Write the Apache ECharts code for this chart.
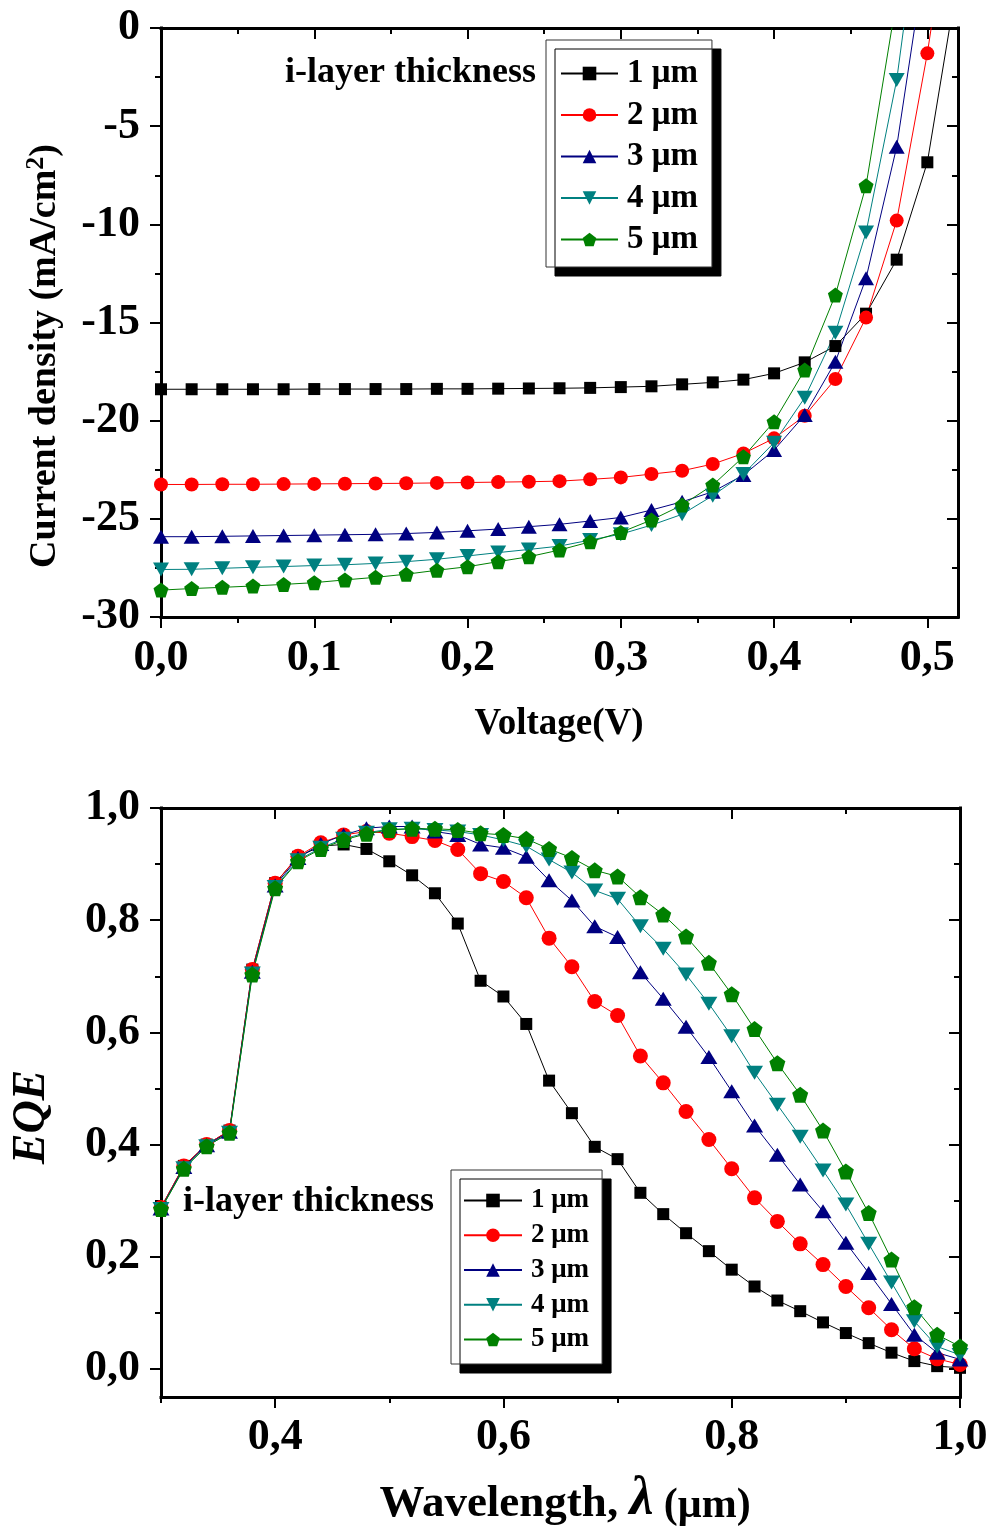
<!DOCTYPE html>
<html>
<head>
<meta charset="utf-8">
<script src="https://cdn.jsdelivr.net/npm/echarts@6/dist/echarts.min.js"></script>
<style>
  html, body { margin: 0; padding: 0; background: #ffffff; }
  #chart { width: 994px; height: 1528px; }
</style>
</head>
<body>
<div id="chart"></div>
<script>
// ---- J–V characteristics (current density vs. voltage) ----
const voltage = [0, 0.02, 0.04, 0.06, 0.08, 0.10, 0.12, 0.14, 0.16, 0.18, 0.20, 0.22, 0.24,
  0.26, 0.28, 0.30, 0.32, 0.34, 0.36, 0.38, 0.40, 0.42, 0.44, 0.46, 0.48, 0.50, 0.52];
const jv1um = [-18.40, -18.40, -18.40, -18.40, -18.40, -18.39, -18.39, -18.39, -18.39, -18.38, -18.38, -18.37, -18.36,
  -18.35, -18.33, -18.29, -18.25, -18.15, -18.05, -17.91, -17.59, -17.03, -16.20, -14.55, -11.80, -6.84, 2.6];
const jv2um = [-23.25, -23.25, -23.24, -23.24, -23.23, -23.22, -23.21, -23.20, -23.19, -23.17, -23.15, -23.13, -23.11,
  -23.08, -22.99, -22.89, -22.72, -22.55, -22.21, -21.67, -20.90, -19.75, -17.88, -14.75, -9.81, -1.29, 9.0];
const jv3um = [-25.91, -25.91, -25.89, -25.87, -25.85, -25.83, -25.81, -25.79, -25.75, -25.69, -25.61, -25.52, -25.40,
  -25.28, -25.11, -24.93, -24.55, -24.13, -23.62, -22.77, -21.50, -19.71, -17.00, -12.75, -6.05, 4.3, null];
const jv4um = [-27.58, -27.57, -27.52, -27.47, -27.43, -27.38, -27.34, -27.27, -27.18, -27.06, -26.89, -26.72, -26.56,
  -26.39, -26.08, -25.78, -25.32, -24.77, -23.82, -22.72, -21.12, -18.83, -15.52, -10.41, -2.65, 9.0, null];
const jv5um = [-28.63, -28.55, -28.49, -28.42, -28.34, -28.25, -28.11, -27.98, -27.82, -27.62, -27.44, -27.18, -26.93,
  -26.59, -26.17, -25.69, -25.06, -24.30, -23.28, -21.84, -20.05, -17.42, -13.60, -8.03, 1.5, null, null];

// ---- External quantum efficiency vs. wavelength ----
const wavelength = [0.30, 0.32, 0.34, 0.36, 0.38, 0.40, 0.42, 0.44, 0.46, 0.48, 0.50, 0.52, 0.54, 0.56, 0.58, 0.60,
  0.62, 0.64, 0.66, 0.68, 0.70, 0.72, 0.74, 0.76, 0.78, 0.80, 0.82, 0.84, 0.86, 0.88, 0.90, 0.92, 0.94, 0.96, 0.98, 1.00];
const eqe1um = [0.288, 0.362, 0.400, 0.425, 0.712, 0.866, 0.913, 0.932, 0.935, 0.927, 0.905, 0.880, 0.848, 0.794, 0.692, 0.664,
  0.615, 0.514, 0.456, 0.396, 0.374, 0.314, 0.276, 0.242, 0.210, 0.177, 0.147, 0.122, 0.103, 0.083, 0.064, 0.046, 0.029, 0.014, 0.005, 0.002];
const eqe2um = [0.288, 0.362, 0.400, 0.425, 0.712, 0.866, 0.914, 0.938, 0.952, 0.958, 0.955, 0.949, 0.942, 0.926, 0.883, 0.869,
  0.840, 0.768, 0.717, 0.655, 0.630, 0.558, 0.510, 0.459, 0.409, 0.357, 0.305, 0.263, 0.223, 0.186, 0.147, 0.109, 0.070, 0.036, 0.018, 0.008];
const eqe3um = [0.286, 0.360, 0.399, 0.423, 0.708, 0.862, 0.911, 0.936, 0.952, 0.964, 0.967, 0.967, 0.958, 0.952, 0.935, 0.929,
  0.913, 0.871, 0.835, 0.789, 0.770, 0.707, 0.660, 0.610, 0.556, 0.495, 0.434, 0.382, 0.329, 0.281, 0.225, 0.171, 0.116, 0.061, 0.029, 0.017];
const eqe4um = [0.285, 0.358, 0.397, 0.421, 0.705, 0.859, 0.907, 0.929, 0.945, 0.956, 0.962, 0.963, 0.961, 0.958, 0.952, 0.943,
  0.932, 0.908, 0.885, 0.853, 0.838, 0.789, 0.749, 0.703, 0.651, 0.593, 0.528, 0.471, 0.414, 0.354, 0.293, 0.223, 0.154, 0.085, 0.040, 0.025];
const eqe5um = [0.285, 0.357, 0.397, 0.421, 0.703, 0.857, 0.905, 0.927, 0.943, 0.954, 0.961, 0.963, 0.963, 0.961, 0.955, 0.952,
  0.945, 0.927, 0.911, 0.889, 0.878, 0.841, 0.810, 0.771, 0.724, 0.668, 0.606, 0.545, 0.489, 0.425, 0.352, 0.278, 0.195, 0.110, 0.061, 0.040];

const thicknessNames = ['1 μm', '2 μm', '3 μm', '4 μm', '5 μm'];

// tick positions
const jvXMajor = [0, 0.1, 0.2, 0.3, 0.4, 0.5];
const jvXMinor = [0.05, 0.15, 0.25, 0.35, 0.45];
const jvYMajor = [0, -5, -10, -15, -20, -25, -30];
const jvYMinor = [-2.5, -7.5, -12.5, -17.5, -22.5, -27.5];
const eqeXMajor = [0.4, 0.6, 0.8, 1.0];
const eqeXMinor = [0.3, 0.5, 0.7, 0.9];
const eqeYMajor = [0, 0.2, 0.4, 0.6, 0.8, 1.0];
const eqeYMinor = [0.1, 0.3, 0.5, 0.7, 0.9];

const FONT = 'Liberation Serif';
const PENTAGON = 'path://M0,-1L0.9511,-0.309L0.5878,0.809L-0.5878,0.809L-0.9511,-0.309Z';
const colors = ['#000000', '#ff0000', '#000080', '#008080', '#008000'];
const symbols = ['rect', 'circle', 'triangle', 'triangle', PENTAGON];
const rotations = [0, 0, 0, 180, 0];

const commaFmt = v => v.toFixed(1).replace('.', ',');
const intFmt = v => String(Math.round(v));

const tickLine = { color: '#000', width: 2 };
const axisLineStyle = { show: true, onZero: false, lineStyle: { color: '#000', width: 3, cap: 'square' } };
const hiddenLine = { show: false, onZero: false };

function labelStyle(margin, fmt, values) {
  return { show: true, customValues: values, formatter: fmt, margin: margin,
    fontSize: 44, fontWeight: 'bold', fontFamily: FONT, color: '#000' };
}

// four axes per side pair: main (with labels), minor ticks, mirrored main, mirrored minor
function makeAxes(dim, grid, min, max, major, minor, fmt, margin) {
  const sides = dim === 'x' ? ['bottom', 'top'] : ['left', 'right'];
  const base = { type: 'value', gridIndex: grid, min: min, max: max, splitLine: { show: false }, silent: true };
  return [
    Object.assign({}, base, { position: sides[0], axisLine: axisLineStyle,
      axisTick: { show: true, customValues: major, length: 11, lineStyle: tickLine },
      axisLabel: labelStyle(margin, fmt, major) }),
    Object.assign({}, base, { position: sides[0], axisLine: hiddenLine,
      axisTick: { show: true, customValues: minor, length: 6, lineStyle: tickLine },
      axisLabel: { show: false } }),
    Object.assign({}, base, { position: sides[1], axisLine: axisLineStyle,
      axisTick: { show: true, inside: true, customValues: major, length: 11, lineStyle: tickLine },
      axisLabel: { show: false } }),
    Object.assign({}, base, { position: sides[1], axisLine: hiddenLine,
      axisTick: { show: true, inside: true, customValues: minor, length: 6, lineStyle: tickLine },
      axisLabel: { show: false } })
  ];
}

function makeSeries(idx, axisIndex, xs, ys, sizes) {
  return {
    type: 'line', name: thicknessNames[idx],
    xAxisIndex: axisIndex, yAxisIndex: axisIndex,
    data: xs.map((x, i) => [x, ys[i]]),
    symbol: symbols[idx], symbolSize: sizes[idx], symbolRotate: rotations[idx],
    lineStyle: { color: colors[idx], width: 1 },
    itemStyle: { color: colors[idx] },
    clip: true, animation: false, emphasis: { disabled: true }
  };
}

const jvSizes = [12, 14, [16, 14], [16, 14], 15];
const eqeSizes = [12, 15, [17, 14], [17, 14], 16];
const jvData = [jv1um, jv2um, jv3um, jv4um, jv5um];
const eqeData = [eqe1um, eqe2um, eqe3um, eqe4um, eqe5um];

function legendBox(left, top, fontSize, itemWidth, itemHeight, gap, padding) {
  return {
    orient: 'vertical', left: left, top: top, data: thicknessNames,
    selectedMode: false, itemWidth: itemWidth, itemHeight: itemHeight, itemGap: gap,
    padding: padding, backgroundColor: '#ffffff', borderColor: '#333333', borderWidth: 1,
    shadowColor: '#000000', shadowBlur: 0, shadowOffsetX: 9, shadowOffsetY: 9,
    textStyle: { fontSize: fontSize, lineHeight: fontSize, fontWeight: 'bold', fontFamily: FONT,
      color: '#000', padding: [0, 0, 0, 4] }
  };
}

const option = {
  backgroundColor: '#ffffff',
  animation: false,
  grid: [
    { left: 161, top: 28, width: 797, height: 589 },
    { left: 161, top: 808, width: 799, height: 589 }
  ],
  xAxis: [].concat(
    makeAxes('x', 0, 0, 0.52, jvXMajor, jvXMinor, commaFmt, 20),
    makeAxes('x', 1, 0.3, 1.0, eqeXMajor, eqeXMinor, commaFmt, 19)
  ),
  yAxis: [].concat(
    makeAxes('y', 0, -30, 0, jvYMajor, jvYMinor, intFmt, 21),
    makeAxes('y', 1, -0.05, 1.0, eqeYMajor, eqeYMinor, commaFmt, 21)
  ),
  legend: [
    legendBox(546, 40, 33, 57, 17, 8.5, [17, 14, 11, 14]),
    legendBox(451, 1170, 27, 58, 17, 7.75, [17, 13, 11, 12])
  ],
  series: [].concat(
    jvData.map((ys, i) => makeSeries(i, 0, voltage, ys, jvSizes)),
    eqeData.map((ys, i) => makeSeries(i, 4, wavelength, ys, eqeSizes))
  ),
  graphic: [
    { type: 'text', x: 285, y: 73, silent: true,
      style: { text: 'i-layer thickness', fill: '#000', fontSize: 36, fontWeight: 'bold', fontFamily: FONT,
        align: 'left', verticalAlign: 'middle' } },
    { type: 'text', x: 183, y: 1202, silent: true,
      style: { text: 'i-layer thickness', fill: '#000', fontSize: 36, fontWeight: 'bold', fontFamily: FONT,
        align: 'left', verticalAlign: 'middle' } },
    { type: 'text', x: 44, y: 356, rotation: Math.PI / 2, silent: true,
      style: { text: '{a|Current density (mA/cm}{s|2}{a|)}', fill: '#000', align: 'center', verticalAlign: 'middle',
        rich: {
          a: { fontSize: 38, fontWeight: 'bold', fontFamily: FONT, fill: '#000', lineHeight: 41, verticalAlign: 'bottom' },
          s: { fontSize: 26, fontWeight: 'bold', fontFamily: FONT, fill: '#000', lineHeight: 26, verticalAlign: 'top' }
        } } },
    { type: 'text', x: 559, y: 724, silent: true,
      style: { text: 'Voltage(V)', fill: '#000', fontSize: 37, fontWeight: 'bold', fontFamily: FONT,
        align: 'center', verticalAlign: 'middle' } },
    { type: 'text', x: 32, y: 1117, rotation: Math.PI / 2, silent: true,
      style: { text: 'EQE', fill: '#000', fontSize: 46, fontWeight: 'bold', fontStyle: 'italic', fontFamily: FONT,
        align: 'center', verticalAlign: 'middle' } },
    { type: 'text', x: 565, y: 1500, silent: true,
      style: { text: '{a|Wavelength, }{l|λ}{b| (μm)}', fill: '#000', align: 'center', verticalAlign: 'middle',
        rich: {
          a: { fontSize: 45, fontWeight: 'bold', fontFamily: FONT, fill: '#000', lineHeight: 48, verticalAlign: 'bottom' },
          l: { fontSize: 54, fontWeight: 'bold', fontStyle: 'italic', fontFamily: FONT, fill: '#000', lineHeight: 54, verticalAlign: 'bottom' },
          b: { fontSize: 42, fontWeight: 'bold', fontFamily: FONT, fill: '#000', lineHeight: 46, verticalAlign: 'bottom' }
        } } }
  ]
};

const chart = echarts.init(document.getElementById('chart'), null, { renderer: 'canvas' });
chart.setOption(option);
</script>
</body>
</html>
